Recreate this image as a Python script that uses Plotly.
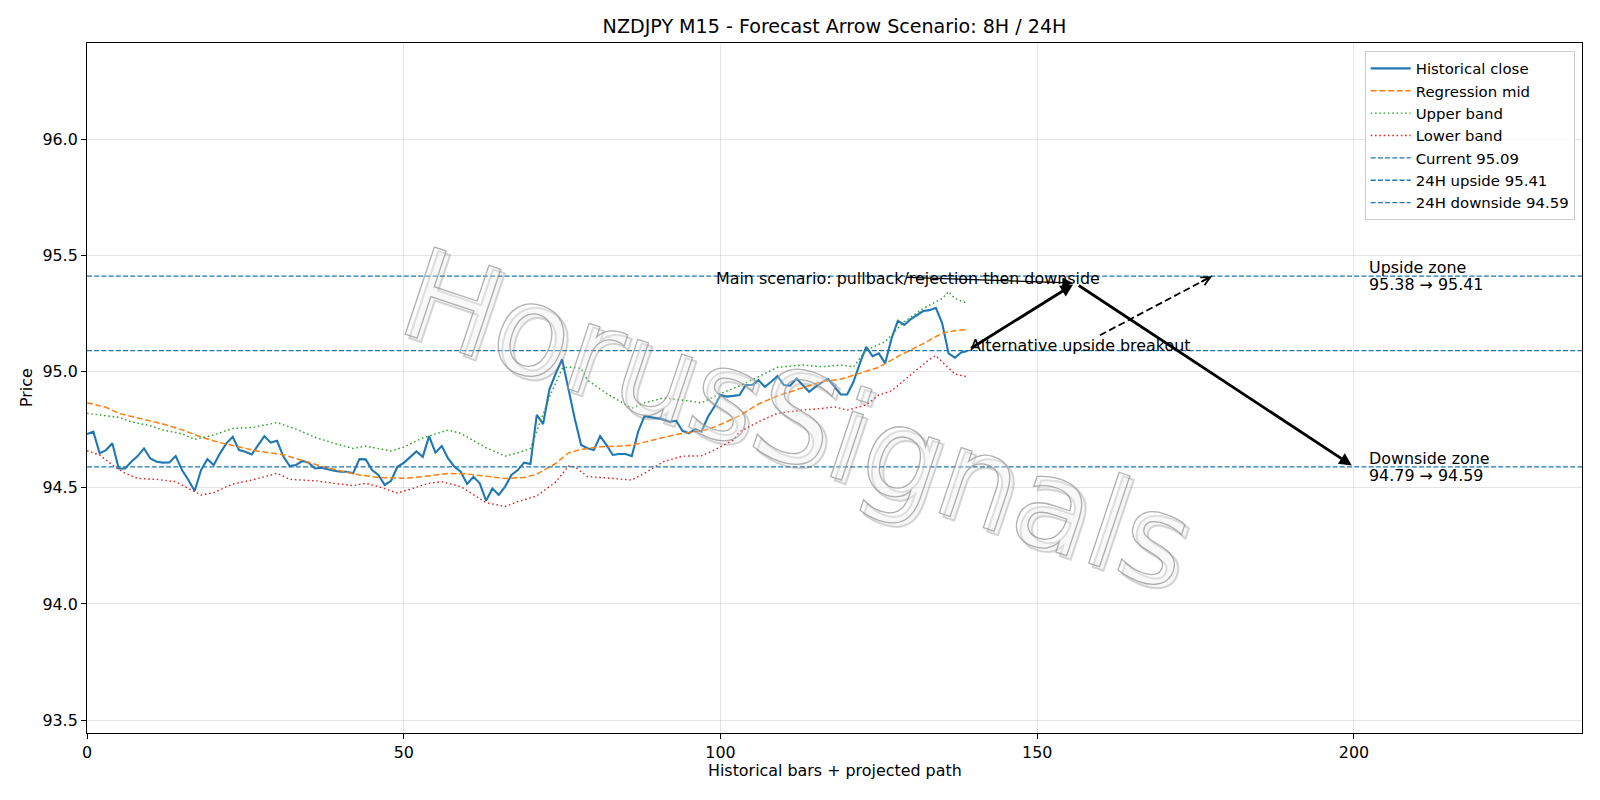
import plotly.graph_objects as go

# ---------------- data ----------------
hist_close = [
    94.731, 94.741, 94.648, 94.662, 94.691, 94.583, 94.583, 94.612, 94.636, 94.669,
    94.626, 94.612, 94.608, 94.609, 94.636, 94.576, 94.533, 94.486, 94.576, 94.623,
    94.598, 94.648, 94.691, 94.719, 94.662, 94.655, 94.643, 94.684, 94.722, 94.694,
    94.702, 94.634, 94.593, 94.598, 94.615, 94.608, 94.583, 94.586, 94.579, 94.573,
    94.569, 94.569, 94.562, 94.623, 94.622, 94.576, 94.555, 94.512, 94.530, 94.590,
    94.607, 94.630, 94.656, 94.633, 94.722, 94.651, 94.679, 94.626, 94.590, 94.569,
    94.516, 94.547, 94.519, 94.444, 94.497, 94.469, 94.505, 94.555, 94.576, 94.608,
    94.602, 94.813, 94.774, 94.923, 94.992, 95.052, 94.924, 94.797, 94.684, 94.670,
    94.662, 94.722, 94.684, 94.641, 94.645, 94.645, 94.636, 94.741, 94.808, 94.803,
    94.798, 94.794, 94.784, 94.788, 94.745, 94.734, 94.752, 94.741, 94.804, 94.847,
    94.899, 94.892, 94.895, 94.899, 94.942, 94.942, 94.963, 94.934, 94.956, 94.980,
    94.942, 94.939, 94.970, 94.942, 94.913, 94.934, 94.953, 94.967, 94.934, 94.901,
    94.901, 94.956, 95.035, 95.106, 95.066, 95.078, 95.035, 95.142, 95.218, 95.200,
    95.224, 95.243, 95.260, 95.264, 95.274, 95.207, 95.078, 95.059, 95.082, 95.088,
]
hist_x = list(range(len(hist_close)))

mid_x = [0, 3, 5, 8, 12, 15, 18, 21, 24, 27, 31, 34, 37, 40, 43, 46, 50, 53, 55, 57,
         60, 63, 66, 69, 71, 74, 76, 78, 81, 84, 86, 89, 93, 96, 98, 100, 103, 106, 109,
         113, 116, 119, 122, 125, 128, 132, 135, 137, 139]
mid_y = [94.866, 94.846, 94.820, 94.800, 94.774, 94.749, 94.718, 94.694, 94.674, 94.657,
         94.642, 94.617, 94.592, 94.573, 94.555, 94.544, 94.541, 94.548, 94.555, 94.561,
         94.559, 94.550, 94.540, 94.544, 94.558, 94.605, 94.650, 94.665, 94.676, 94.679,
         94.683, 94.703, 94.729, 94.742, 94.750, 94.772, 94.810, 94.860, 94.895, 94.930,
         94.957, 94.967, 94.992, 95.018, 95.065, 95.120, 95.165, 95.175, 95.181]

upper_x = [0, 2, 5, 7, 10, 12, 15, 17, 20, 23, 26, 30, 33, 36, 39, 42, 44, 48, 50, 53,
           57, 59, 63, 66, 68, 70, 71, 73, 75, 76, 78, 79, 82, 86, 88, 91, 94, 97, 100,
           103, 106, 109, 113, 116, 119, 121, 123, 126, 129, 132, 135, 136, 137, 139]
upper_y = [94.820, 94.813, 94.803, 94.783, 94.767, 94.748, 94.732, 94.708, 94.727, 94.755,
           94.759, 94.780, 94.752, 94.717, 94.691, 94.669, 94.679, 94.658, 94.675, 94.714,
           94.748, 94.734, 94.672, 94.636, 94.650, 94.669, 94.740, 94.890, 95.012, 95.020,
           95.013, 94.963, 94.906, 94.842, 94.865, 94.886, 94.877, 94.865, 94.905, 94.938,
           94.978, 95.018, 95.028, 95.020, 95.028, 95.020, 95.092, 95.128, 95.214, 95.271,
           95.314, 95.343, 95.314, 95.293]

lower_x = [0, 2, 4, 6, 8, 11, 14, 16, 18, 20, 23, 26, 30, 32, 36, 39, 42, 44, 46, 49,
           52, 54, 56, 59, 63, 66, 68, 71, 74, 76, 77, 79, 83, 86, 88, 91, 94, 97, 99,
           102, 103, 106, 109, 113, 116, 118, 120, 123, 125, 127, 130, 133, 134, 136, 137, 139]
lower_y = [94.659, 94.641, 94.598, 94.562, 94.540, 94.536, 94.526, 94.497, 94.469, 94.479,
           94.516, 94.533, 94.562, 94.536, 94.530, 94.519, 94.509, 94.519, 94.505, 94.477,
           94.503, 94.519, 94.526, 94.505, 94.436, 94.419, 94.440, 94.465, 94.525, 94.593,
           94.590, 94.548, 94.540, 94.533, 94.562, 94.612, 94.636, 94.637, 94.662, 94.705,
           94.740, 94.784, 94.820, 94.834, 94.841, 94.848, 94.834, 94.856, 94.899, 94.917,
           94.985, 95.052, 95.068, 95.015, 94.989, 94.977]

current_price = 95.09
upside_24h = 95.41
downside_24h = 94.59
upside_zone = (95.38, 95.41)
downside_zone = (94.79, 94.59)

# scenario path (bar index, price)
main_path_x = [139, 156, 200]
main_path_y = [95.09, 95.38, 94.59]
alt_target = (177.6, 95.41)
alt_visible_start = (159.9, 95.156)
main_label_pos = (99, 95.38)
main_label_center = (129.2, 95.405)
alt_label_pos = (139, 95.09)
zone_label_x = 202

x_ticks = [0, 50, 100, 150, 200]
y_ticks = [93.5, 94.0, 94.5, 95.0, 95.5, 96.0]
X_RANGE = [0, 236]
Y_RANGE = [93.445, 96.413]

title_text = "NZDJPY M15 - Forecast Arrow Scenario: 8H / 24H"
watermark_text = "HorusSignals"

# ---------------- layout geometry ----------------
W, H = 1600, 800
ML, MR, MT, MB = 86.7, 17.7, 42.8, 66.8
PW = W - ML - MR
PH = H - MT - MB
px_per_x = PW / (X_RANGE[1] - X_RANGE[0])
px_per_y = PH / (Y_RANGE[1] - Y_RANGE[0])

FONT = "DejaVu Sans"
FS = 15.9
BLUE = "#1f77b4"

fig = go.Figure()

fig.add_trace(go.Scatter(x=hist_x, y=hist_close, mode="lines", name="Historical close",
                         line=dict(color=BLUE, width=2.1)))
fig.add_trace(go.Scatter(x=mid_x, y=mid_y, mode="lines", name="Regression mid",
                         line=dict(color="#ff7f0e", width=1.5, dash="6px,2.7px")))
fig.add_trace(go.Scatter(x=upper_x, y=upper_y, mode="lines", name="Upper band",
                         line=dict(color="#2ca02c", width=1.4, dash="1.6px,2.7px")))
fig.add_trace(go.Scatter(x=lower_x, y=lower_y, mode="lines", name="Lower band",
                         line=dict(color="#d62728", width=1.4, dash="1.6px,2.7px")))
for lvl, nm in [(current_price, f"Current {current_price:.2f}"),
                (upside_24h, f"24H upside {upside_24h:.2f}"),
                (downside_24h, f"24H downside {downside_24h:.2f}")]:
    fig.add_trace(go.Scatter(x=X_RANGE, y=[lvl, lvl], mode="lines", name=nm,
                             line=dict(color=BLUE, width=1.3, dash="5px,2.2px")))

annotations = []
shapes = []

# watermark: index 0 = shadow copy, index 1 = main outlined text
wm_x = (797 - ML) / PW
wm_y = (H - MB - 420) / PH
annotations.append(dict(text=watermark_text, xref="paper", yref="paper", x=wm_x, y=wm_y,
                        xshift=4, yshift=-4,
                        xanchor="center", yanchor="middle", showarrow=False, textangle=18.5,
                        font=dict(family=FONT, size=126, color="rgba(150,150,150,0.25)")))
annotations.append(dict(text=watermark_text, xref="paper", yref="paper", x=wm_x, y=wm_y,
                        xanchor="center", yanchor="middle", showarrow=False, textangle=18.5,
                        font=dict(family=FONT, size=126, color="rgba(190,190,190,0.35)")))

# main scenario thick arrows
for i in range(len(main_path_x) - 1):
    annotations.append(dict(x=main_path_x[i + 1], y=main_path_y[i + 1],
                            ax=main_path_x[i], ay=main_path_y[i],
                            xref="x", yref="y", axref="x", ayref="y",
                            text="", showarrow=True, arrowhead=2, arrowsize=0.9,
                            arrowwidth=2.8, arrowcolor="black",
                            standoff=2.5, startstandoff=2.5))

# main scenario label + thin arrow from its centre
annotations.append(dict(x=main_label_pos[0], y=main_label_pos[1], xref="x", yref="y",
                        text="Main scenario: pullback/rejection then downside",
                        showarrow=False, xanchor="left", yanchor="middle", yshift=5,
                        font=dict(family=FONT, size=FS, color="black")))
annotations.append(dict(x=main_path_x[1], y=main_path_y[1],
                        ax=main_label_center[0], ay=main_label_center[1],
                        xref="x", yref="y", axref="x", ayref="y",
                        text="", showarrow=True, arrowhead=2, arrowsize=1.6,
                        arrowwidth=1.3, arrowcolor="black", standoff=2.5))

# alternative label + dashed arrow
annotations.append(dict(x=alt_label_pos[0], y=alt_label_pos[1], xref="x", yref="y",
                        text="Alternative upside breakout",
                        showarrow=False, xanchor="left", yanchor="middle", yshift=5,
                        font=dict(family=FONT, size=FS, color="black")))
shapes.append(dict(type="line", xref="x", yref="y",
                   x0=alt_visible_start[0], y0=alt_visible_start[1],
                   x1=alt_target[0], y1=alt_target[1],
                   line=dict(color="black", width=1.8, dash="7px,3.5px")))
dxp = (alt_target[0] - alt_visible_start[0]) * px_per_x
dyp = (alt_target[1] - alt_visible_start[1]) * px_per_y
nrm = (dxp ** 2 + dyp ** 2) ** 0.5
annotations.append(dict(x=alt_target[0], y=alt_target[1], xref="x", yref="y",
                        ax=-dxp / nrm * 14, ay=dyp / nrm * 14,
                        text="", showarrow=True, arrowhead=5, arrowsize=1.1,
                        arrowwidth=1.6, arrowcolor="black", standoff=0))

# zone labels (two lines each, tight spacing)
for lvl, l1, l2 in [(upside_24h, "Upside zone", f"{upside_zone[0]:.2f} → {upside_zone[1]:.2f}"),
                    (downside_24h, "Downside zone", f"{downside_zone[0]:.2f} → {downside_zone[1]:.2f}")]:
    annotations.append(dict(x=zone_label_x, y=lvl, xref="x", yref="y", text=l1,
                            yshift=8.6, showarrow=False, xanchor="left", yanchor="middle",
                            font=dict(family=FONT, size=FS, color="black")))
    annotations.append(dict(x=zone_label_x, y=lvl, xref="x", yref="y", text=l2,
                            yshift=-8.4, showarrow=False, xanchor="left", yanchor="middle",
                            font=dict(family=FONT, size=FS, color="black")))

# axis titles
annotations.append(dict(text="Historical bars + projected path", xref="paper", yref="paper",
                        x=0.5, y=0, yshift=-37, xanchor="center", yanchor="middle",
                        showarrow=False, font=dict(family=FONT, size=FS, color="black")))
annotations.append(dict(text="Price", xref="paper", yref="paper",
                        x=0, xshift=-61, y=0.5, xanchor="center", yanchor="middle",
                        textangle=-90, showarrow=False,
                        font=dict(family=FONT, size=FS, color="black")))

grid_col = "rgba(176,176,176,0.33)"
axis_common = dict(showline=True, linecolor="black", linewidth=1.1, mirror=True,
                   ticks="outside", ticklen=5, tickwidth=1.1, tickcolor="black",
                   showgrid=True, gridcolor=grid_col, gridwidth=1, zeroline=False,
                   tickfont=dict(family=FONT, size=FS, color="black"))

fig.update_layout(
    width=W, height=H, autosize=False,
    margin=dict(l=ML, r=MR, t=MT, b=MB, pad=0),
    paper_bgcolor="white", plot_bgcolor="white",
    font=dict(family=FONT, size=FS, color="black"),
    title=dict(text=title_text, x=(ML + PW / 2) / W, xanchor="center",
               y=1 - 26 / H, yanchor="middle", yref="container",
               font=dict(family=FONT, size=19.1, color="black")),
    xaxis=dict(range=X_RANGE, tickvals=x_ticks, ticktext=[str(v) for v in x_ticks],
               **axis_common),
    yaxis=dict(range=Y_RANGE, tickvals=y_ticks, ticktext=[f"{v:.1f}" for v in y_ticks],
               **axis_common),
    legend=dict(x=(1575 - ML) / PW, y=(H - MB - 51) / PH, xanchor="right", yanchor="top",
                bgcolor="rgba(255,255,255,0.8)", bordercolor="#cccccc", borderwidth=1,
                font=dict(family=FONT, size=14.9, color="black"), itemwidth=40,
                tracegroupgap=0),
    annotations=annotations,
    shapes=shapes,
    showlegend=True,
)

# outline style for the watermark (SVG stroke on the annotation text)
post_js = """
(function(){
  function styleWM(){
    var s = document.querySelectorAll('g.annotation[data-index="0"] text');
    s.forEach(function(t){
      t.style.fill = 'rgba(130,130,130,0.30)';
      t.style.stroke = 'rgba(120,120,120,0.30)';
      t.style.strokeWidth = '2px';
    });
    var m = document.querySelectorAll('g.annotation[data-index="1"] text');
    m.forEach(function(t){
      t.style.fill = 'rgba(255,255,255,0.72)';
      t.style.stroke = 'rgba(150,150,150,0.75)';
      t.style.strokeWidth = '1.3px';
    });
  }
  styleWM();
  setTimeout(styleWM, 50);
  setTimeout(styleWM, 300);
  var gd = document.getElementById('{plot_id}');
  if (gd && gd.on) { gd.on('plotly_afterplot', styleWM); }
})();
"""

fig.write_html("out.html", post_script=post_js)
